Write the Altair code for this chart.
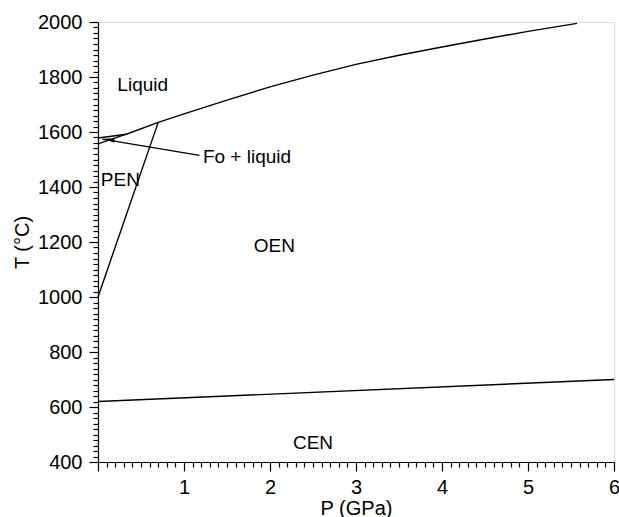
import altair as alt
import pandas as pd

# Phase boundaries (P in GPa, T in °C)
liq_P = [0.0, 0.33, 0.70, 1.0, 1.5, 2.0, 2.5, 3.0, 3.5, 4.0, 4.5, 5.0, 5.57]
liq_T = [1578, 1592, 1635, 1666, 1716, 1764, 1807, 1846, 1879, 1909, 1938, 1966, 1995]

sol_P = [0.0, 0.33]
sol_T = [1557, 1592]

pen_P = [0.0, 0.70]
pen_T = [1000, 1635]

cen_P = [0.0, 6.0]
cen_T = [620, 700]

arrow_P = [1.18, 0.05]
arrow_T = [1515, 1574]

label_text = ["Liquid", "PEN", "OEN", "CEN"]
label_P = [0.52, 0.26, 2.05, 2.5]
label_T = [1770, 1424, 1184, 468]

fo_text = ["Fo + liquid"]
fo_P = [1.22]
fo_T = [1508]

x_ticks = [round(k * 0.1, 1) for k in range(0, 61)]
y_ticks = list(range(400, 2001, 20))

def seg(P, T, name):
    return pd.DataFrame({"P": P, "T": T, "line": name, "order": range(len(P))})

lines_df = pd.concat([
    seg(liq_P, liq_T, "liq"),
    seg(sol_P, sol_T, "sol"),
    seg(pen_P, pen_T, "pen"),
    seg(cen_P, cen_T, "cen"),
    seg(arrow_P, arrow_T, "arrow"),
])

FONT = "Liberation Sans"

xscale = alt.Scale(domain=[0, 6], nice=False, zero=False)
yscale = alt.Scale(domain=[400, 2000], nice=False, zero=False)

xaxis = alt.Axis(
    values=x_ticks,
    tickCount=200,
    title="P (GPa)",
    labelExpr="(datum.value % 1 === 0 && datum.value > 0) ? format(datum.value, 'd') : ''",
    labelOverlap=False,
    labelFlush=False,
    grid=False,
    tickSize={"condition": {"test": "datum.value % 1 === 0", "value": 9}, "value": 5},
    tickColor="black",
    tickWidth=1.2,
    domainColor="black",
    domainWidth=1.2,
    labelFont=FONT,
    labelFontSize=20,
    labelColor="black",
    labelPadding=6,
    titleFont=FONT,
    titleFontSize=20,
    titleFontWeight="normal",
    titleColor="black",
    titlePadding=1,
)

yaxis = alt.Axis(
    values=y_ticks,
    tickCount=200,
    title="T (°C)",
    labelExpr="(datum.value % 200 === 0) ? format(datum.value, 'd') : ''",
    labelOverlap=False,
    labelFlush=False,
    grid=False,
    tickSize={"condition": {"test": "datum.value % 200 === 0", "value": 9}, "value": 5},
    tickColor="black",
    tickWidth=1.2,
    domainColor="black",
    domainWidth=1.2,
    labelFont=FONT,
    labelFontSize=20,
    labelColor="black",
    labelPadding=7,
    titleFont=FONT,
    titleFontSize=20,
    titleFontWeight="normal",
    titleColor="black",
    titlePadding=5,
)

lines = alt.Chart(lines_df).mark_line(color="black", strokeWidth=1.4).encode(
    x=alt.X("P:Q", scale=xscale, axis=xaxis),
    y=alt.Y("T:Q", scale=yscale, axis=yaxis),
    detail="line:N",
    order="order:Q",
)

head_df = pd.DataFrame({"P": [arrow_P[1] + 0.08], "T": [arrow_T[1] - 1.5]})
head = alt.Chart(head_df).mark_point(
    shape="M -1 0 L 1 -0.4 L 1 0.4 Z",
    filled=True,
    color="black",
    opacity=1,
    size=110,
    angle=9,
).encode(x=alt.X("P:Q", scale=xscale), y=alt.Y("T:Q", scale=yscale))

labels_df = pd.DataFrame({"text": label_text, "P": label_P, "T": label_T})
labels = alt.Chart(labels_df).mark_text(
    font=FONT, fontSize=19, color="black", align="center", baseline="middle"
).encode(x=alt.X("P:Q", scale=xscale), y=alt.Y("T:Q", scale=yscale), text="text:N")

fo_df = pd.DataFrame({"text": fo_text, "P": fo_P, "T": fo_T})
fo = alt.Chart(fo_df).mark_text(
    font=FONT, fontSize=19, color="black", align="left", baseline="middle"
).encode(x=alt.X("P:Q", scale=xscale), y=alt.Y("T:Q", scale=yscale), text="text:N")

chart = alt.layer(lines, head, labels, fo).properties(
    width=516,
    height=440,
    autosize=alt.AutoSizeParams(type="none"),
    padding={"left": 98, "top": 22, "right": 5, "bottom": 55},
).configure_view(stroke="#444444", strokeWidth=1.3).configure(background="white")

chart.save("out.html", embed_options={"renderer": "svg", "actions": False})
